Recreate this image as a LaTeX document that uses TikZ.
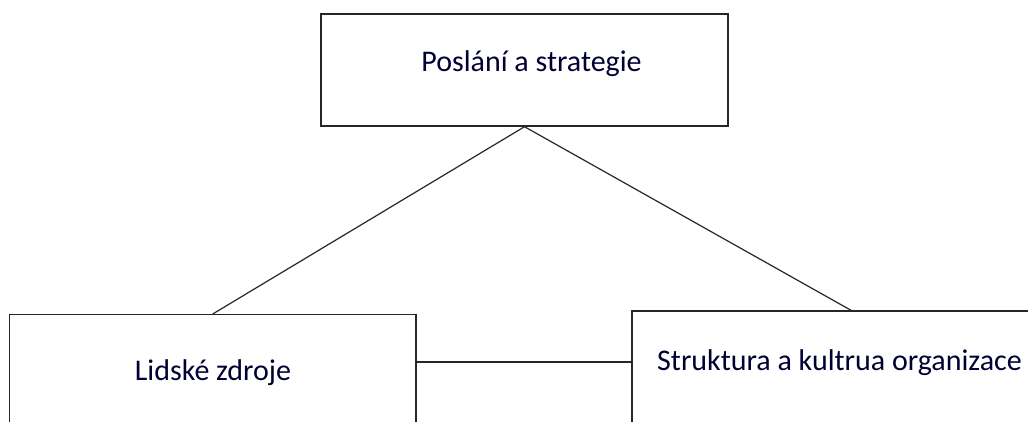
\documentclass[tikz,border=0pt]{standalone}
\usepackage{fontspec}
\setmainfont{Carlito}
\begin{document}
\begin{tikzpicture}[x=1pt,y=1pt,
  box/.style={draw=black!85,line width=1.4pt,fill=white,inner sep=0pt},
  lab/.style={inner sep=0pt,anchor=base,font=\fontsize{30}{36}\selectfont,text=black!80!blue},
  link/.style={draw=black!85,line width=1.2pt}]
\useasboundingbox (0,0) rectangle (1028,421);
\clip (0,0) rectangle (1028,421);
\node[box,minimum width=407pt,minimum height=112pt] (top) at (524.5,351) {};
\node[box,minimum width=406.7pt,minimum height=145.3pt] (left) at (212.7,33.65) {};
\node[box,minimum width=438pt,minimum height=149pt] (right) at (851,35.5) {};
\node[lab] (toplab) at (531.5,349.3) {Poslání a strategie};
\node[lab] (leftlab) at (213,41) {Lidské zdroje};
\node[lab,anchor=base west] (rightlab) at (657,51) {Struktura a kultrua organizace};
\coordinate (mid) at (0,59);
\draw[link] (top.south) -- (left.north);
\draw[link] (top.south) -- (right.north);
\draw[link] (left.east |- mid) -- (right.west |- mid);
\end{tikzpicture}
\end{document}
